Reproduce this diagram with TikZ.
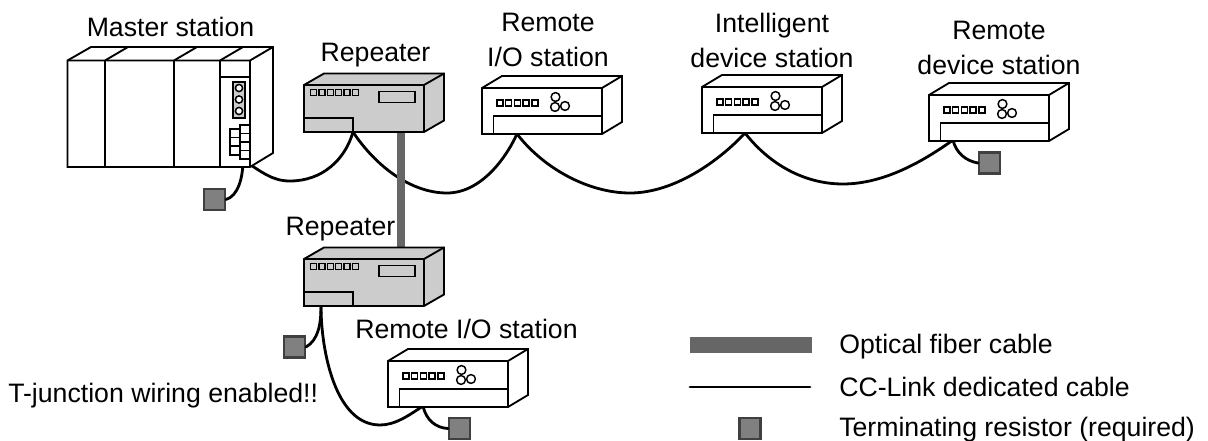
\documentclass[tikz,border=0pt]{standalone}
\usepackage{fontspec}
\setmainfont{Liberation Sans}
\tikzset{
  x=0.75pt,y=-0.75pt,
  lbl/.style={font=\fontsize{20pt}{26.25pt}\selectfont,align=center,inner sep=0pt,text=black},
  lblleft/.style={lbl,anchor=west},
  term/.style={draw=black!75,line width=1.8pt,fill=black!50,minimum size=15.5pt,inner sep=0pt,rectangle},
  cable/.style={line width=2.1pt,black,line cap=round},
  fiber/.style={line width=6pt,draw=black!60},
  hw/.style={line width=1.4pt,draw=black,line join=miter},
  hwthin/.style={line width=1.1pt,draw=black},
}
\newcommand{\stationbox}[2]{%
  \begin{scope}[shift={(#1,#2)}]
    \draw[hw,fill=white] (0,0) -- (20,-12) -- (140,-12) -- (140,34) -- (120,46) -- (0,46) -- cycle;
    \draw[hw] (0,0) -- (120,0) -- (120,46) (120,0) -- (140,-12);
    \draw[hw] (120,28) -- (11.5,28) -- (11.5,46);
    \foreach \i in {0,...,4} \draw[hwthin,fill=white] (15+8.7*\i,12) rectangle ++(6,6);
    \draw[hwthin] (73.5,9) circle (4.4) (73,19) circle (4.4) (83,18) circle (4.4);
  \end{scope}}
\newcommand{\repeaterbox}[2]{%
  \begin{scope}[shift={(#1,#2)}]
    \draw[hw,fill=black!20] (0,0) -- (20,-11.5) -- (140,-11.5) -- (140,35.5) -- (120,47) -- (0,47) -- cycle;
    \draw[hw] (0,0) -- (120,0) -- (120,47) (120,0) -- (140,-11.5);
    \draw[hw] (0,33) -- (49,33) -- (49,47);
    \foreach \i in {0,...,5} \draw[hwthin,fill=black!20] (6.5+8.4*\i,4.5) rectangle ++(6,6);
    \draw[hw] (75,6.5) rectangle (111,17.5);
  \end{scope}}
\begin{document}
\begin{tikzpicture}
\useasboundingbox (0,0) rectangle (1208,441);
% coordinates
\coordinate (mtop) at (243,160);
\coordinate (rp1) at (353,132);
\coordinate (st1) at (517,134);
\coordinate (st2) at (745,133);
\coordinate (st3) at (953,140);
\coordinate (rp2) at (321,306);
\coordinate (st4) at (423,406);
\coordinate (fa) at (401,132);
\coordinate (fb) at (401,248);
% terminators
\node[term] (t1) at (214.5,199.5) {};
\node[term] (t2) at (294.5,347) {};
\node[term] (t3) at (459.5,428.5) {};
\node[term] (t4) at (989.5,163) {};
\node[term] (tl) at (750,428.5) {};
% cables
\draw[cable] (mtop) .. controls (243,178) and (238,196) .. (t1.east);
\draw[cable] (mtop) .. controls (262,172) and (272,181) .. (290,181) .. controls (322,181) and (345,160) .. (rp1);
\draw[cable] (rp1) .. controls (375,165) and (410,193) .. (447,193) .. controls (480,193) and (505,160) .. (st1);
\draw[cable] (st1) .. controls (545,170) and (590,193) .. (630,193) .. controls (675,193) and (720,160) .. (st2);
\draw[cable] (st2) .. controls (770,165) and (805,184) .. (843,184) .. controls (885,184) and (925,160) .. (st3);
\draw[cable] (st3) .. controls (956,153) and (966,161) .. (t4.west);
\draw[cable] (rp2) .. controls (321,325) and (318,340) .. (t2.east);
\draw[cable] (rp2) .. controls (321,350) and (335,425) .. (380,425) .. controls (395,425) and (408,416) .. (st4);
\draw[cable] (st4) .. controls (426,420) and (436,428) .. (t3.west);
% fiber
\draw[fiber] (fa) -- (fb);
% master station
\draw[hw,fill=white] (67.5,60.5) -- (91,47) -- (273,47) -- (273,153) -- (250,167) -- (67.5,167) -- cycle;
\draw[hw] (67.5,60.5) -- (250,60.5) -- (250,167) (250,60.5) -- (273,47);
\foreach \x/\t in {105/128,174/197,220/243} {\draw[hw] (\x,60.5) -- (\x,167) (\x,60.5) -- (\t,47);}
\draw[hw] (220,77) -- (250,77);
\draw[hwthin,fill=black!20] (233,82) rectangle (245,118);
\foreach \y in {88,99.5,111} \draw[hwthin,fill=white] (239,\y) circle (3.6);
\draw[hw,fill=white] (230,129) rectangle (240,155);
\draw[hw] (230,137.5) -- (240,137.5) (230,146) -- (240,146);
\draw[hw,fill=white] (240,125) rectangle (250,159);
\draw[hw] (240,133.5) -- (250,133.5) (240,142) -- (250,142) (240,150.5) -- (250,150.5);
% stations
\repeaterbox{304}{85}
\repeaterbox{304}{259}
\stationbox{482}{88}
\stationbox{702}{87}
\stationbox{929}{95}
\stationbox{388}{361}
% labels
\node[lbl] (l1) at (170.5,27) {Master station};
\node[lbl] (l2) at (375.5,55) {Repeater};
\node[lbl] (l3) at (548,40) {Remote\\I/O station};
\node[lbl] (l4) at (772,40) {Intelligent\\device station};
\node[lbl] (l5) at (999,47.5) {Remote\\device station};
\node[lbl] (l6) at (340.5,229) {Repeater};
\node[lbl] (l7) at (466.5,329) {Remote I/O station};
\node[lblleft] (l8) at (8,396) {T-junction wiring enabled!!};
\node[lblleft] (l9) at (839,347) {Optical fiber cable};
\node[lblleft] (l10) at (839,387) {CC-Link dedicated cable};
\node[lblleft] (l11) at (839,430) {Terminating resistor (required)};
% legend
\coordinate (f1) at (690,345); \coordinate (f2) at (812,345);
\coordinate (c1) at (690,387); \coordinate (c2) at (810,387);
\draw[line width=12pt,draw=black!60] (f1) -- (f2);
\draw[cable] (c1) -- (c2);
\end{tikzpicture}
\end{document}
